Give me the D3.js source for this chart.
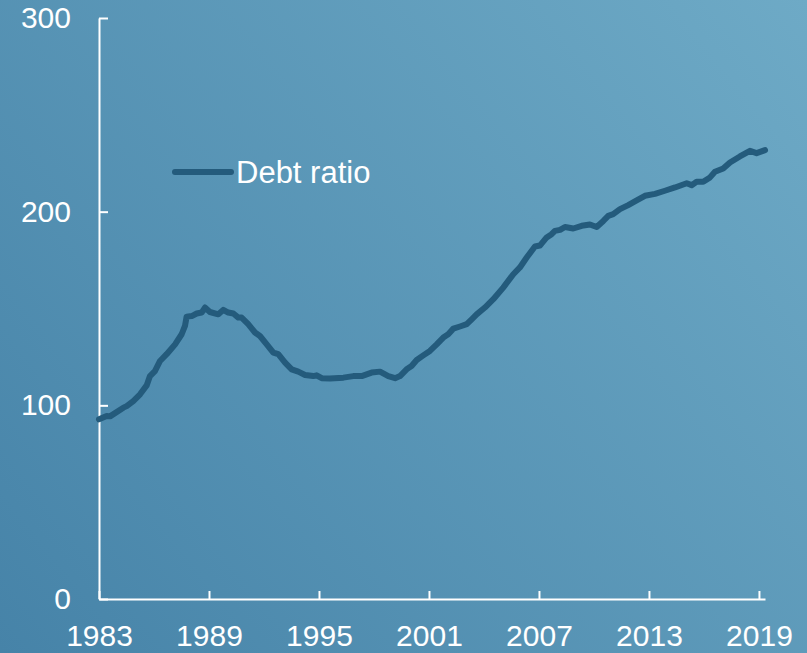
<!DOCTYPE html>
<html>
<head>
<meta charset="utf-8">
<script src="https://cdn.jsdelivr.net/npm/d3@7"></script>
<style>
  html, body { margin: 0; padding: 0; background: #5a9bbb; }
  svg { display: block; }
  text { font-family: "Liberation Sans", Arial, sans-serif; fill: #fff; }
</style>
</head>
<body>
<svg id="chart" width="807" height="653"></svg>
<script>
// Debt ratio, 1983–2019 (decimal year, percent)
const years = [
  1983.0, 1983.42, 1983.6, 1984.33, 1984.51, 1984.87, 1985.24, 1985.6, 1985.78, 1986.05,
  1986.33, 1986.69, 1987.15, 1987.51, 1987.69, 1987.78, 1988.06, 1988.33, 1988.6, 1988.78,
  1989.05, 1989.51, 1989.78, 1990.05, 1990.33, 1990.6, 1990.78, 1991.14, 1991.51, 1991.78,
  1992.15, 1992.51, 1992.78, 1993.15, 1993.51, 1993.87, 1994.24, 1994.69, 1994.87, 1995.15,
  1995.6, 1996.33, 1996.87, 1997.33, 1997.87, 1998.33, 1998.78, 1999.15, 1999.42, 1999.78,
  2000.05, 2000.33, 2000.69, 2001.05, 2001.42, 2001.78, 2002.05, 2002.33, 2002.69, 2003.06,
  2003.33, 2003.6, 2004.05, 2004.51, 2005.05, 2005.6, 2005.96, 2006.33, 2006.78, 2007.05,
  2007.42, 2007.69, 2007.87, 2008.15, 2008.42, 2008.87, 2009.33, 2009.78, 2010.15, 2010.51,
  2010.78, 2011.05, 2011.42, 2011.87, 2012.33, 2012.78, 2013.33, 2013.87, 2014.42, 2015.06,
  2015.33, 2015.6, 2015.96, 2016.33, 2016.6, 2017.05, 2017.42, 2017.96, 2018.51, 2018.87,
  2019.33
];
const debtRatio = [
  92.8, 94.5, 94.3, 98.8, 99.6, 102.2, 105.7, 110.3, 115.1, 117.7,
  122.9, 126.4, 131.5, 136.7, 141.0, 145.8, 146.1, 147.4, 147.9, 150.5,
  148.2, 147.0, 149.3, 147.9, 147.4, 145.3, 145.3, 141.9, 137.6, 135.8,
  131.5, 127.2, 126.4, 122.1, 118.6, 117.4, 115.7, 115.1, 115.5, 114.0,
  113.8, 114.3, 115.1, 115.1, 116.9, 117.4, 115.1, 114.0, 115.1, 118.6,
  120.3, 123.4, 125.8, 128.1, 131.5, 135.0, 136.7, 139.6, 140.7, 141.9,
  144.4, 147.0, 150.5, 154.8, 160.8, 167.7, 171.2, 176.3, 182.0, 182.5,
  186.7, 188.4, 190.1, 190.6, 192.1, 191.3, 192.7, 193.4, 192.1, 195.2,
  197.8, 198.7, 201.3, 203.4, 205.8, 208.2, 209.2, 210.8, 212.5, 214.7,
  213.7, 215.4, 215.4, 217.7, 220.6, 222.3, 225.4, 228.5, 231.4, 230.2,
  231.8
];
const xTicks = [1983, 1989, 1995, 2001, 2007, 2013, 2019];
const yTicks = [0, 100, 200, 300];
const seriesName = "Debt ratio";

const svg = d3.select("#chart");
const W = 807, H = 653;

// Diagonal background wash, darker at lower left
const defs = svg.append("defs");
const grad = defs.append("linearGradient")
  .attr("id", "bg").attr("gradientUnits", "userSpaceOnUse")
  .attr("x1", 0).attr("y1", H).attr("x2", W).attr("y2", 0);
grad.append("stop").attr("offset", "0%").attr("stop-color", "#4683a8");
grad.append("stop").attr("offset", "100%").attr("stop-color", "#6eaac6");
svg.append("rect").attr("width", W).attr("height", H).attr("fill", "url(#bg)");

const x = d3.scaleLinear().domain([1983, 2019.33]).range([99, 765]);
const y = d3.scaleLinear().domain([0, 300]).range([599, 18]);

const fontSize = 30;

// Y axis: ticks point into the plot, labels well to the left
const yAxis = svg.append("g")
  .attr("transform", `translate(${x(1983)},0)`)
  .call(d3.axisLeft(y).tickValues(yTicks).tickSizeInner(-9).tickSizeOuter(0).tickPadding(28));

// X axis: ticks point upward
const xAxis = svg.append("g")
  .attr("transform", `translate(0,${y(0)})`)
  .call(d3.axisBottom(x).tickValues(xTicks).tickFormat(d3.format("d"))
    .tickSizeInner(-8).tickSizeOuter(0).tickPadding(26));

[yAxis, xAxis].forEach(g => {
  g.select(".domain").attr("stroke", "#fff").attr("stroke-width", 2);
  g.selectAll(".tick line").attr("stroke", "#fff").attr("stroke-width", 2);
  g.selectAll(".tick text")
    .attr("fill", "#fff")
    .style("font-family", '"Liberation Sans", Arial, sans-serif')
    .style("font-size", fontSize + "px");
});

// Series line
const lineColor = "#245b7c";
const line = d3.line()
  .x(i => x(years[i]))
  .y(i => y(debtRatio[i]))
  .curve(d3.curveLinear);

svg.append("path")
  .attr("d", line(d3.range(years.length)))
  .attr("fill", "none")
  .attr("stroke", lineColor)
  .attr("stroke-width", 6)
  .attr("stroke-linejoin", "round")
  .attr("stroke-linecap", "round");

// Legend
const legend = svg.append("g").attr("transform", "translate(175,172)");
legend.append("line")
  .attr("x1", 0).attr("x2", 56).attr("y1", 0).attr("y2", 0)
  .attr("stroke", lineColor).attr("stroke-width", 6).attr("stroke-linecap", "round");
legend.append("text")
  .attr("x", 61).attr("y", 10.5)
  .style("font-size", "31px")
  .text(seriesName);
</script>
</body>
</html>
